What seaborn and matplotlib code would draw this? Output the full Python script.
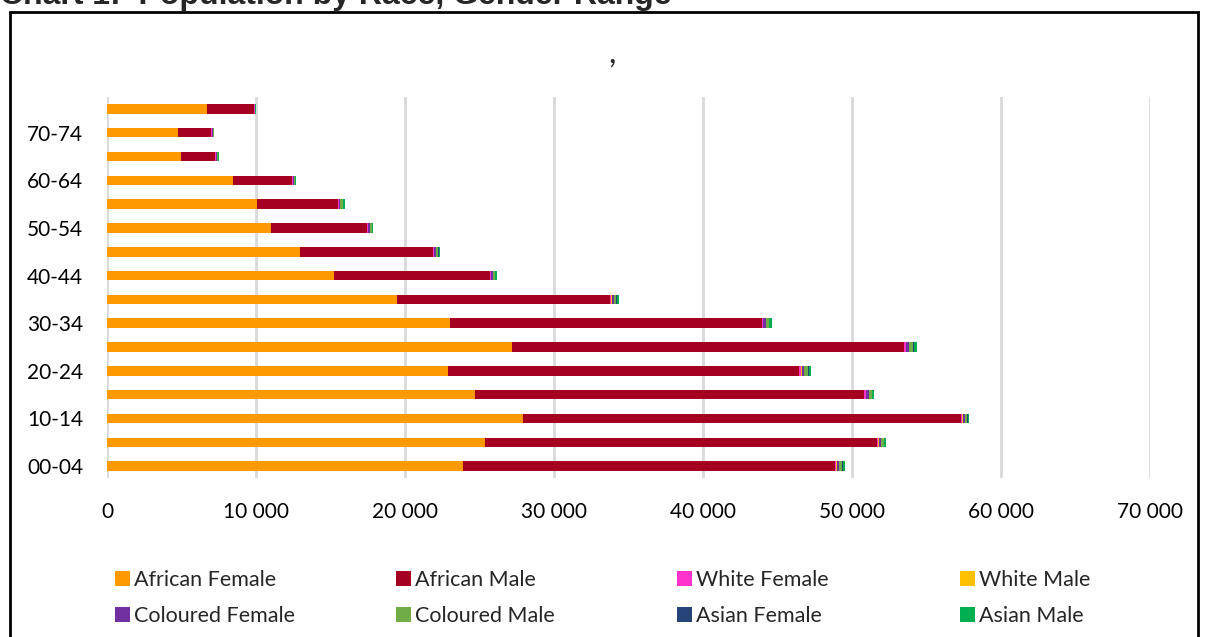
"""
Population by race, gender and age - stacked horizontal bars
"""
import matplotlib
matplotlib.use('Agg')
import matplotlib.pyplot as plt
from matplotlib.patches import Patch, Rectangle
from matplotlib.ticker import FuncFormatter
import seaborn as sns
import pandas as pd

# age groups, bottom to top
ages = ['00-04', '05-09', '10-14', '15-19', '20-24', '25-29', '30-34', '35-39',
        '40-44', '45-49', '50-54', '55-59', '60-64', '65-69', '70-74', '75+']
shown_labels = ['00-04', '10-14', '20-24', '30-34', '40-44', '50-54', '60-64', '70-74']

african_female = [23890, 25390, 27900, 24700, 22890, 27200, 23000, 19480,
                  15260, 12950, 10980, 10070, 8460, 4970, 4770, 6730]
african_male = [24970, 26310, 29440, 26130, 23580, 26290, 20940, 14280,
                10450, 8930, 6490, 5410, 3980, 2300, 2240, 3150]
white_female = [80, 70, 70, 80, 110, 110, 90, 80, 60, 60, 50, 60, 40, 40, 30, 20]
white_male = [40, 30, 30, 40, 40, 30, 30, 30, 20, 30, 30, 40, 20, 20, 20, 10]
coloured_female = [170, 150, 140, 170, 170, 220, 150, 130, 100, 100, 80, 90, 50, 40, 30, 20]
coloured_male = [200, 190, 170, 200, 230, 220, 200, 180, 140, 160, 150, 180, 90, 90, 60, 30]
asian_female = [50, 40, 30, 40, 70, 60, 50, 50, 40, 30, 20, 20, 10, 10, 5, 5]
asian_male = [130, 120, 100, 120, 145, 230, 150, 150, 90, 90, 70, 80, 40, 25, 15, 5]

series_names = ['African Female', 'African Male', 'White Female', 'White Male',
                'Coloured Female', 'Coloured Male', 'Asian Female', 'Asian Male']
series_colors = ['#FF9900', '#A50021', '#FF33CC', '#FFC000',
                 '#7030A0', '#70AD47', '#264478', '#00B050']

df = pd.DataFrame({
    'age': ages,
    'African Female': african_female,
    'African Male': african_male,
    'White Female': white_female,
    'White Male': white_male,
    'Coloured Female': coloured_female,
    'Coloured Male': coloured_male,
    'Asian Female': asian_female,
    'Asian Male': asian_male,
})
# cumulative totals for stacking
cum = df[series_names].cumsum(axis=1)
cum['age'] = df['age']

sns.set_style('white')
plt.rcParams['font.family'] = ['Lato', 'DejaVu Sans']

fig = plt.figure(figsize=(12.08, 6.37), dpi=100)
ax = fig.add_axes([107 / 1208, 1 - 478 / 637, (1150 - 107) / 1208, (478 - 97) / 637])

order = ages[::-1]  # top to bottom
for name, color in list(zip(series_names, series_colors))[::-1]:
    sns.barplot(data=cum, x=name, y='age', order=order, orient='h', color=color,
                saturation=1, width=0.4, ax=ax, linewidth=0)

ax.set_xlim(0, 70000)
ax.set_xticks(range(0, 70001, 10000))
ax.xaxis.set_major_formatter(FuncFormatter(lambda v, p: f'{int(v):,}'.replace(',', ' ')))
ax.set_yticks(range(len(order)))
ax.set_yticklabels([a if a in shown_labels else '' for a in order])
ax.set_xlabel('')
ax.set_ylabel('')
ax.set_axisbelow(True)
ax.xaxis.grid(True, color='#d9d9d9', linewidth=2)
ax.yaxis.grid(False)
for s in ax.spines.values():
    s.set_visible(False)
ax.tick_params(axis='x', length=0, pad=17, labelsize=15, labelcolor='#000000')
ax.tick_params(axis='y', length=0, pad=17, labelsize=15, labelcolor='#000000')

# legend: four equal-width columns, two rows each
handles = [Patch(facecolor=c, edgecolor='none') for c in series_colors]
col_x = [115, 396, 677, 960]
for j, x0 in enumerate(col_x):
    items = [j, j + 4]
    fig.legend([handles[i] for i in items], [series_names[i] for i in items],
               loc='center left', bbox_to_anchor=(x0 / 1208, 1 - 598 / 637),
               frameon=False, fontsize=15.5, handlelength=0.7, handleheight=0.7,
               handletextpad=0.2, labelspacing=0.75, borderpad=0, borderaxespad=0)

# chart frame and titles
fig.patches.append(Rectangle((10 / 1208, -0.1), 1188 / 1208, 1.1 - 12 / 637,
                             transform=fig.transFigure, fill=False,
                             edgecolor='black', linewidth=2))
fig.text(0, 1 - 4 / 637, 'Chart 1:  Population by Race, Gender Range',
         fontsize=23, fontweight='bold', family=['Liberation Sans', 'DejaVu Sans'],
         va='baseline', ha='left')
fig.text(612 / 1208, 1 - 63 / 637, ',', fontsize=24, ha='center', va='baseline')

fig.savefig('out.png', dpi=100)
